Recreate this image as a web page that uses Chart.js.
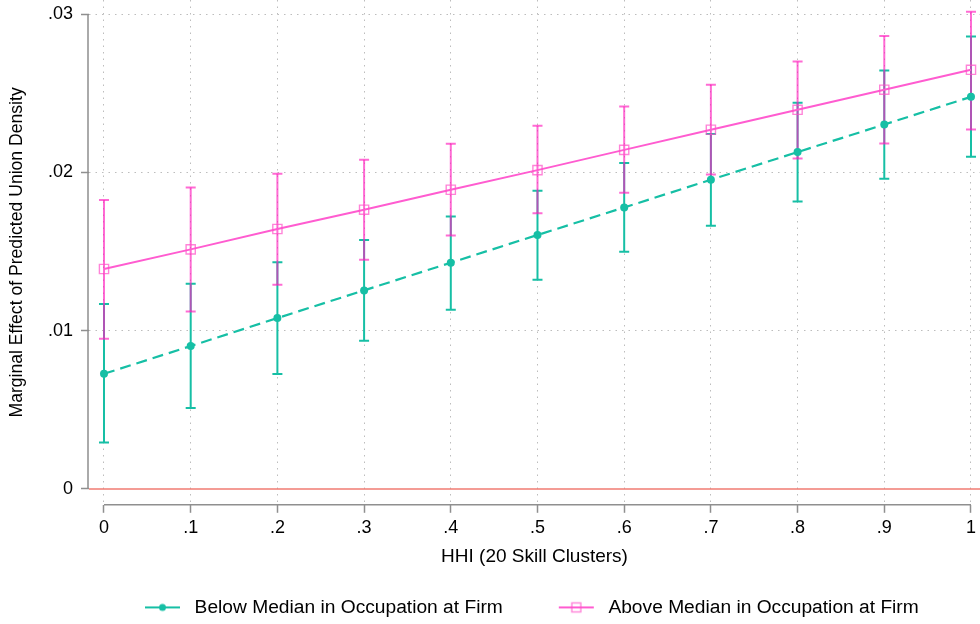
<!DOCTYPE html>
<html>
<head>
<meta charset="utf-8">
<script src="https://cdn.jsdelivr.net/npm/chart.js@4/dist/chart.umd.min.js"></script>
<style>
  html, body { margin: 0; padding: 0; background: #fff; }
  #wrap { width: 980px; height: 624px; }
</style>
</head>
<body>
<div id="wrap"><canvas id="chart"></canvas></div>
<script>
// Dados
const xValues = [0, 0.1, 0.2, 0.3, 0.4, 0.5, 0.6, 0.7, 0.8, 0.9, 1];
const xTickLabels = ['0', '.1', '.2', '.3', '.4', '.5', '.6', '.7', '.8', '.9', '1'];
const yTickValues = [0, 0.01, 0.02, 0.03];
const yTickLabels = ['0', '.01', '.02', '.03'];

const seriesNames = ['Below Median in Occupation at Firm', 'Above Median in Occupation at Firm'];

const belowEst = [0.00728, 0.00903, 0.0108, 0.01255, 0.0143, 0.01605, 0.01779, 0.01954, 0.02129, 0.02303, 0.02478];
const belowLo  = [0.00294, 0.00512, 0.00727, 0.00937, 0.01133, 0.01322, 0.01499, 0.01663, 0.01817, 0.0196, 0.02099];
const belowHi  = [0.01169, 0.01297, 0.01432, 0.01573, 0.01722, 0.01884, 0.0206, 0.02243, 0.0244, 0.02644, 0.02859];

const aboveEst = [0.0139, 0.01514, 0.01643, 0.01765, 0.01891, 0.02015, 0.02143, 0.0227, 0.02396, 0.02523, 0.02649];
const aboveLo  = [0.0095, 0.01122, 0.0129, 0.01449, 0.01602, 0.01743, 0.01872, 0.01987, 0.02088, 0.02183, 0.02272];
const aboveHi  = [0.01826, 0.01905, 0.01992, 0.0208, 0.02181, 0.02295, 0.02417, 0.02554, 0.02701, 0.02862, 0.03016];

// Cores
const TEAL = '#16bfa5';
const PINK = '#ff5cd0';
const PINK_CI = 'rgba(255, 30, 190, 0.66)';
const PINK_SQ = 'rgba(255, 80, 200, 0.7)';
const AXIS = '#8f8f8f';
const GRID = '#bdbdbd';
const ZERO = '#f07b72';
const FONT = "'Liberation Sans', Arial, sans-serif";

// Pontos para a linha principal
function points(est) {
  return xValues.map((x, i) => ({ x: x, y: est[i] }));
}

// Segmentos verticais dos intervalos (null separa os segmentos)
function ciSegments(lo, hi) {
  const out = [];
  xValues.forEach((x, i) => {
    out.push({ x: x, y: lo[i] });
    out.push({ x: x, y: hi[i] });
    out.push({ x: x, y: null });
  });
  return out;
}

// Ícone da legenda: linha com marcador
function legendIcon(color, marker) {
  const c = document.createElement('canvas');
  c.width = 90;
  c.height = 20;
  const g = c.getContext('2d');
  const a = 50;
  g.strokeStyle = color;
  g.lineWidth = 2;
  g.beginPath();
  g.moveTo(a, 10);
  g.lineTo(a + 35, 10);
  g.stroke();
  if (marker === 'circle') {
    g.fillStyle = color;
    g.beginPath();
    g.arc(a + 17.5, 10, 3.5, 0, Math.PI * 2);
    g.fill();
  } else {
    g.strokeStyle = PINK_SQ;
    g.lineWidth = 1.4;
    g.strokeRect(a + 13, 5.5, 9, 9);
  }
  return c;
}

// Sem folgas automáticas à volta da área do gráfico
function noPadding(s) {
  s.paddingTop = 0;
  s.paddingBottom = 0;
  s.paddingLeft = 0;
  s.paddingRight = 0;
}

// Linha vermelha no zero e eixos estilo Stata
const stataAxes = {
  id: 'stataAxes',
  beforeDatasetsDraw(chart) {
    const { ctx, chartArea, scales: { x, y } } = chart;
    ctx.save();
    const y0 = y.getPixelForValue(0);
    ctx.strokeStyle = ZERO;
    ctx.lineWidth = 1.5;
    ctx.beginPath();
    ctx.moveTo(chartArea.left, y0);
    ctx.lineTo(chartArea.right, y0);
    ctx.stroke();

    ctx.strokeStyle = AXIS;
    ctx.lineWidth = 1.5;
    ctx.beginPath();
    ctx.moveTo(chartArea.left - 1, y.getPixelForValue(yTickValues[yTickValues.length - 1]));
    ctx.lineTo(chartArea.left - 1, y.getPixelForValue(yTickValues[0]));
    ctx.moveTo(x.getPixelForValue(xValues[0]), chartArea.bottom);
    ctx.lineTo(x.getPixelForValue(xValues[xValues.length - 1]), chartArea.bottom);
    ctx.stroke();
    ctx.restore();
  }
};

new Chart(document.getElementById('chart'), {
  type: 'line',
  data: {
    datasets: [
      {
        label: seriesNames[0],
        data: points(belowEst),
        borderColor: TEAL,
        backgroundColor: TEAL,
        borderWidth: 2.2,
        borderDash: [11, 6],
        pointStyle: 'circle',
        pointRadius: 4,
        pointBorderWidth: 0,
        order: 0
      },
      {
        label: seriesNames[1],
        data: points(aboveEst),
        borderColor: PINK,
        backgroundColor: 'rgba(255,255,255,0)',
        borderWidth: 2,
        pointStyle: 'rect',
        pointRadius: 6.5,
        pointBorderColor: PINK_SQ,
        pointBorderWidth: 1.4,
        order: 1
      },
      {
        label: 'ci-below',
        data: ciSegments(belowLo, belowHi),
        borderColor: TEAL,
        borderWidth: 2,
        pointStyle: 'line',
        pointRadius: 5,
        pointBorderWidth: 2,
        pointBorderColor: TEAL,
        spanGaps: false,
        order: 3
      },
      {
        label: 'ci-above',
        data: ciSegments(aboveLo, aboveHi),
        borderColor: PINK_CI,
        borderWidth: 2,
        pointStyle: 'line',
        pointRadius: 5,
        pointBorderWidth: 2,
        pointBorderColor: PINK_CI,
        spanGaps: false,
        order: 2
      }
    ]
  },
  options: {
    responsive: true,
    maintainAspectRatio: false,
    animation: false,
    layout: { autoPadding: false, padding: { top: 0, right: 0, bottom: -3, left: 0 } },
    plugins: {
      tooltip: { enabled: false },
      legend: {
        position: 'bottom',
        align: 'start',
        fullSize: false,
        labels: {
          usePointStyle: true,
          pointStyleWidth: 90,
          padding: 6,
          color: '#000',
          font: { family: FONT, size: 19.2 },
          generateLabels: () => [
            { text: seriesNames[0], pointStyle: legendIcon(TEAL, 'circle'), fontColor: '#000', lineWidth: 0, datasetIndex: 0 },
            { text: seriesNames[1], pointStyle: legendIcon(PINK, 'square'), fontColor: '#000', lineWidth: 0, datasetIndex: 1 }
          ]
        }
      }
    },
    scales: {
      x: {
        type: 'linear',
        min: -0.0173,
        max: 1.0104,
        afterBuildTicks: (s) => { s.ticks = xValues.map(v => ({ value: v })); },
        afterFit: (s) => { s.height = 87; noPadding(s); },
        ticks: {
          autoSkip: false,
          maxRotation: 0,
          padding: 4,
          color: '#000',
          font: { family: FONT, size: 18 },
          callback: (v, i) => xTickLabels[i]
        },
        grid: {
          color: GRID,
          lineWidth: 1,
          tickLength: 8,
          tickColor: AXIS,
          tickWidth: 1.5
        },
        border: { display: false, dash: [1.5, 5] },
        title: {
          display: true,
          text: 'HHI (20 Skill Clusters)',
          color: '#000',
          font: { family: FONT, size: 19 },
          padding: { top: 0, bottom: 24 }
        }
      },
      y: {
        type: 'linear',
        min: -0.001,
        max: 0.0309,
        afterBuildTicks: (s) => { s.ticks = yTickValues.map(v => ({ value: v })); },
        afterFit: (s) => { s.width = 89; noPadding(s); },
        ticks: {
          padding: 8,
          color: '#000',
          font: { family: FONT, size: 18 },
          callback: (v, i) => yTickLabels[i]
        },
        grid: {
          color: (ctx) => (ctx.tick && ctx.tick.value === 0 ? 'rgba(0,0,0,0)' : GRID),
          lineWidth: 1,
          tickLength: 8,
          tickColor: AXIS,
          tickWidth: 1.5
        },
        border: { display: false, dash: [1.5, 5] },
        title: {
          display: true,
          text: 'Marginal Effect of Predicted Union Density',
          color: '#000',
          font: { family: FONT, size: 17.6 },
          padding: { top: 7, bottom: 0 }
        }
      }
    }
  },
  plugins: [stataAxes]
});
</script>
</body>
</html>
